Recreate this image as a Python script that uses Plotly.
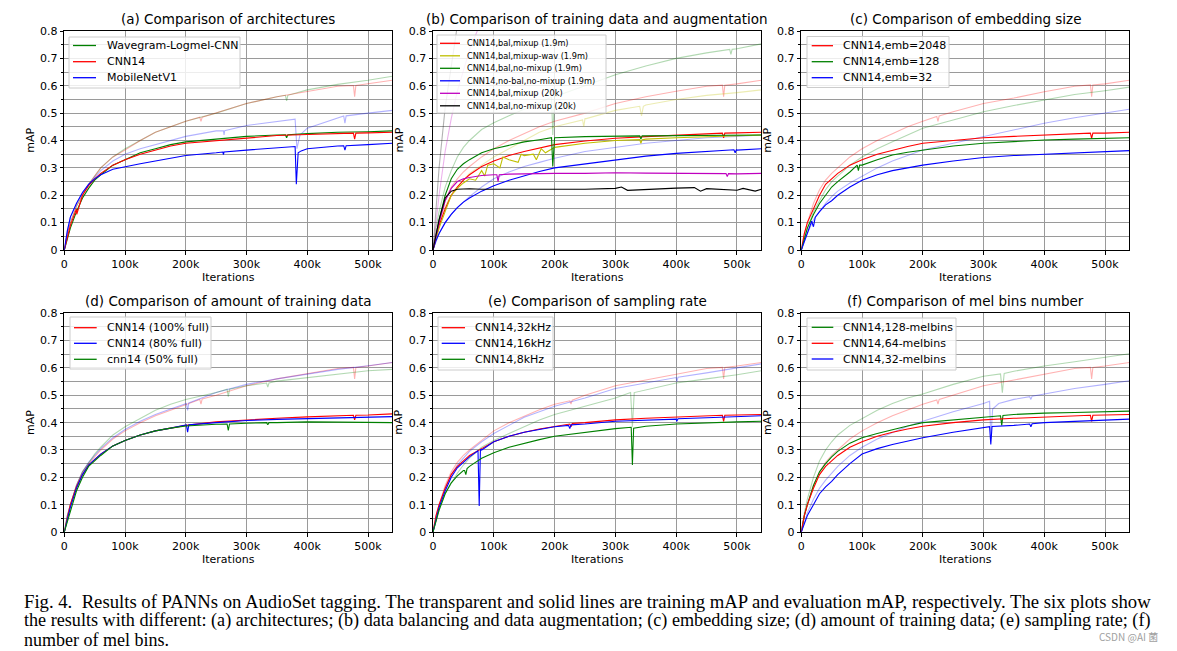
import plotly.graph_objects as go

# ---------------- data (iterations in thousands) ----------------
ITERS_K = [0, 5, 10, 20, 30, 40, 50, 60, 80, 100, 125, 150, 175, 200, 250, 300, 350, 400, 450, 500, 540]

X_TICKS_K = [0, 100, 200, 300, 400, 500]
X_TICK_LABELS = ["0", "100k", "200k", "300k", "400k", "500k"]
Y_TICKS = [0, 0.1, 0.2, 0.3, 0.4, 0.5, 0.6, 0.7, 0.8]
Y_TICK_LABELS = ["0", "0.1", "0.2", "0.3", "0.4", "0.5", "0.6", "0.7", "0.8"]

PANEL_TITLES = [
    "(a) Comparison of architectures",
    "(b) Comparison of training data and augmentation",
    "(c) Comparison of embedding size",
    "(d) Comparison of amount of training data",
    "(e) Comparison of sampling rate",
    "(f) Comparison of mel bins number",
]

# (a) architectures
A_LABELS = ["Wavegram-Logmel-CNN", "CNN14", "MobileNetV1"]
A_WAVEGRAM_EVAL = [0, 0.04, 0.08, 0.14, 0.19, 0.225, 0.255, 0.275, 0.31, 0.33, 0.355, 0.37, 0.385, 0.395, 0.405, 0.415, 0.42, 0.425, 0.43, 0.432, 0.435]
A_WAVEGRAM_EVAL_X = [(364, 0.421), (366, 0.41), (368, 0.421)]
A_CNN14_EVAL = [0, 0.05, 0.09, 0.15, 0.2, 0.235, 0.26, 0.28, 0.31, 0.33, 0.35, 0.365, 0.38, 0.39, 0.40, 0.41, 0.418, 0.422, 0.426, 0.428, 0.43]
A_CNN14_EVAL_X = [(20.5, 0.13), (476, 0.427), (478, 0.405), (480, 0.427)]
A_MOBILE_EVAL = [0, 0.07, 0.12, 0.17, 0.21, 0.24, 0.26, 0.275, 0.295, 0.305, 0.315, 0.325, 0.335, 0.345, 0.355, 0.365, 0.372, 0.37, 0.38, 0.385, 0.39]
A_MOBILE_EVAL_X = [(261, 0.358), (262, 0.348), (263, 0.358), (380, 0.378), (382, 0.24), (385, 0.355), (390, 0.362),
                   (460, 0.381), (462, 0.365), (464, 0.381)]
A_WAVEGRAM_TRAIN = [0, 0.06, 0.1, 0.16, 0.2, 0.24, 0.27, 0.3, 0.34, 0.37, 0.4, 0.43, 0.45, 0.47, 0.5, 0.535, 0.56, 0.585, 0.605, 0.62, 0.635]
A_WAVEGRAM_TRAIN_X = [(364, 0.565), (366, 0.545), (368, 0.565)]
A_CNN14_TRAIN = [0, 0.06, 0.1, 0.16, 0.2, 0.24, 0.27, 0.3, 0.34, 0.365, 0.4, 0.43, 0.45, 0.47, 0.5, 0.535, 0.56, 0.58, 0.598, 0.607, 0.62]
A_CNN14_TRAIN_X = [(223, 0.485), (225, 0.47), (227, 0.485), (476, 0.601), (478, 0.56), (480, 0.601)]
A_MOBILE_TRAIN = [0, 0.07, 0.12, 0.17, 0.21, 0.24, 0.265, 0.29, 0.325, 0.35, 0.37, 0.385, 0.4, 0.415, 0.435, 0.455, 0.468, 0.445, 0.482, 0.5, 0.51]
A_MOBILE_TRAIN_X = [(262, 0.435), (263, 0.42), (264, 0.436), (380, 0.478), (383, 0.37), (388, 0.42),
                    (460, 0.49), (462, 0.463), (464, 0.49)]

# (b) training data and augmentation
B_LABELS = ["CNN14,bal,mixup (1.9m)", "CNN14,bal,mixup-wav (1.9m)", "CNN14,bal,no-mixup (1.9m)",
            "CNN14,no-bal,no-mixup (1.9m)", "CNN14,bal,mixup (20k)", "CNN14,bal,no-mixup (20k)"]
B_RED_EVAL = [0, 0.05, 0.09, 0.15, 0.2, 0.23, 0.255, 0.275, 0.305, 0.325, 0.345, 0.36, 0.372, 0.385, 0.398, 0.408, 0.414, 0.42, 0.425, 0.428, 0.43]
B_RED_EVAL_X = [(476, 0.427), (478, 0.41), (480, 0.427)]
B_YELLOW_EVAL = [0, 0.04, 0.08, 0.14, 0.2, 0.225, 0.245, 0.26, 0.29, 0.315, 0.33, 0.345, 0.355, 0.375, 0.39, 0.4, 0.405, 0.41, 0.413, 0.416, 0.42]
B_YELLOW_EVAL_X = [(70, 0.255), (85, 0.27), (90, 0.31), (110, 0.3), (115, 0.34), (140, 0.32), (145, 0.35),
                   (165, 0.35), (170, 0.33), (178, 0.37), (185, 0.355), (340, 0.403), (342, 0.39), (344, 0.403)]
B_GREEN_EVAL = [0, 0.06, 0.11, 0.2, 0.26, 0.295, 0.315, 0.33, 0.355, 0.37, 0.383, 0.395, 0.403, 0.41, 0.414, 0.416, 0.417, 0.418, 0.418, 0.418, 0.42]
B_GREEN_EVAL_X = [(195, 0.41), (197, 0.305), (199, 0.41), (340, 0.417), (342, 0.405), (344, 0.417)]
B_BLUE_EVAL = [0, 0.035, 0.06, 0.1, 0.13, 0.155, 0.175, 0.19, 0.215, 0.235, 0.255, 0.272, 0.287, 0.3, 0.315, 0.33, 0.343, 0.353, 0.36, 0.365, 0.37]
B_BLUE_EVAL_X = [(495, 0.366), (497, 0.355), (499, 0.366)]
B_MAGENTA_EVAL = [0, 0.05, 0.1, 0.18, 0.225, 0.25, 0.26, 0.265, 0.272, 0.275, 0.277, 0.278, 0.28, 0.28, 0.28, 0.282, 0.281, 0.28, 0.28, 0.278, 0.28]
B_MAGENTA_EVAL_X = [(105, 0.275), (107, 0.25), (109, 0.275), (482, 0.279), (484, 0.268), (486, 0.279)]
B_BLACK_EVAL = [0, 0.06, 0.11, 0.19, 0.215, 0.222, 0.223, 0.224, 0.222, 0.222, 0.223, 0.222, 0.224, 0.223, 0.222, 0.225, 0.222, 0.226, 0.224, 0.218, 0.222]
B_BLACK_EVAL_X = [(310, 0.23), (320, 0.218), (430, 0.228), (440, 0.215), (510, 0.225), (530, 0.215)]
B_RED_TRAIN = [0, 0.06, 0.1, 0.18, 0.23, 0.26, 0.285, 0.305, 0.34, 0.37, 0.4, 0.425, 0.45, 0.47, 0.5, 0.535, 0.56, 0.58, 0.598, 0.607, 0.62]
B_RED_TRAIN_X = [(476, 0.602), (478, 0.56), (480, 0.602)]
B_YELLOW_TRAIN = [0, 0.05, 0.09, 0.16, 0.2, 0.23, 0.255, 0.28, 0.31, 0.34, 0.37, 0.4, 0.43, 0.45, 0.48, 0.51, 0.53, 0.55, 0.565, 0.575, 0.585]
B_YELLOW_TRAIN_X = [(246, 0.475), (248, 0.45), (252, 0.48), (340, 0.525), (343, 0.49), (346, 0.525)]
B_GREEN_TRAIN = [0, 0.08, 0.14, 0.23, 0.29, 0.34, 0.375, 0.4, 0.44, 0.465, 0.49, 0.515, 0.54, 0.56, 0.6, 0.64, 0.672, 0.7, 0.72, 0.735, 0.753]
B_GREEN_TRAIN_X = [(195, 0.558), (197, 0.42), (199, 0.56), (488, 0.733), (490, 0.715), (492, 0.733)]
B_BLUE_TRAIN = [0, 0.03, 0.06, 0.1, 0.13, 0.155, 0.175, 0.195, 0.23, 0.26, 0.285, 0.305, 0.32, 0.335, 0.36, 0.375, 0.39, 0.4, 0.41, 0.415, 0.42]
B_MAGENTA_TRAIN = [0, 0.1, 0.2, 0.36, 0.48, 0.58, 0.66, 0.73, 0.84, 0.9, 0.93, 0.95, 0.96, 0.97, 0.98, 0.98, 0.99, 0.99, 0.99, 0.99, 0.99]
B_BLACK_TRAIN = [0, 0.16, 0.3, 0.52, 0.68, 0.82, 0.9, 0.94, 0.97, 0.98, 0.99, 0.99, 0.99, 0.99, 0.99, 0.99, 0.99, 0.99, 0.99, 0.99, 0.99]

# (c) embedding size
C_LABELS = ["CNN14,emb=2048", "CNN14,emb=128", "CNN14,emb=32"]
C_RED_EVAL = [0, 0.06, 0.1, 0.15, 0.2, 0.24, 0.26, 0.28, 0.31, 0.33, 0.35, 0.365, 0.378, 0.39, 0.4, 0.41, 0.415, 0.42, 0.424, 0.427, 0.43]
C_RED_EVAL_X = [(476, 0.427), (478, 0.408), (480, 0.427)]
C_GREEN_EVAL = [0, 0.04, 0.08, 0.13, 0.17, 0.2, 0.23, 0.25, 0.285, 0.31, 0.33, 0.347, 0.357, 0.365, 0.38, 0.39, 0.396, 0.402, 0.405, 0.408, 0.41]
C_GREEN_EVAL_X = [(92, 0.31), (94, 0.29), (96, 0.31)]
C_BLUE_EVAL = [0, 0.03, 0.06, 0.085, 0.14, 0.165, 0.18, 0.2, 0.23, 0.255, 0.275, 0.29, 0.3, 0.31, 0.325, 0.338, 0.345, 0.35, 0.356, 0.36, 0.363]
C_BLUE_EVAL_X = [(17, 0.105), (23, 0.12)]
C_RED_TRAIN = [0, 0.06, 0.1, 0.17, 0.22, 0.255, 0.28, 0.3, 0.34, 0.37, 0.4, 0.425, 0.45, 0.47, 0.505, 0.535, 0.555, 0.578, 0.598, 0.607, 0.62]
C_RED_TRAIN_X = [(223, 0.488), (225, 0.47), (227, 0.49), (476, 0.603), (478, 0.56), (480, 0.603)]
C_GREEN_TRAIN = [0, 0.04, 0.08, 0.14, 0.18, 0.22, 0.25, 0.27, 0.31, 0.34, 0.37, 0.395, 0.42, 0.445, 0.475, 0.505, 0.528, 0.548, 0.568, 0.582, 0.595]
C_BLUE_TRAIN = [0, 0.03, 0.06, 0.11, 0.14, 0.17, 0.195, 0.215, 0.245, 0.27, 0.3, 0.325, 0.345, 0.365, 0.39, 0.415, 0.44, 0.463, 0.483, 0.5, 0.514]

# (d) amount of training data
D_LABELS = ["CNN14 (100% full)", "CNN14 (80% full)", "cnn14 (50% full)"]
D_RED_EVAL = [0, 0.05, 0.1, 0.165, 0.21, 0.245, 0.265, 0.285, 0.315, 0.335, 0.355, 0.37, 0.38, 0.39, 0.403, 0.41, 0.416, 0.421, 0.425, 0.428, 0.432]
D_RED_EVAL_X = [(476, 0.427), (478, 0.41), (480, 0.427)]
D_BLUE_EVAL = [0, 0.05, 0.09, 0.16, 0.21, 0.245, 0.265, 0.285, 0.315, 0.335, 0.355, 0.37, 0.38, 0.39, 0.4, 0.408, 0.412, 0.415, 0.418, 0.42, 0.422]
D_BLUE_EVAL_X = [(201, 0.392), (203, 0.365), (205, 0.392)]
D_GREEN_EVAL = [0, 0.04, 0.08, 0.15, 0.2, 0.24, 0.26, 0.28, 0.315, 0.335, 0.355, 0.37, 0.38, 0.388, 0.394, 0.398, 0.4, 0.403, 0.402, 0.401, 0.4]
D_GREEN_EVAL_X = [(268, 0.395), (270, 0.372), (272, 0.395), (333, 0.4), (335, 0.392), (337, 0.4)]
D_RED_TRAIN = [0, 0.06, 0.1, 0.17, 0.22, 0.25, 0.275, 0.3, 0.34, 0.37, 0.4, 0.425, 0.445, 0.465, 0.5, 0.535, 0.56, 0.58, 0.598, 0.607, 0.62]
D_RED_TRAIN_X = [(223, 0.485), (225, 0.468), (227, 0.487), (476, 0.602), (478, 0.56), (480, 0.602)]
D_BLUE_TRAIN = [0, 0.06, 0.1, 0.17, 0.22, 0.255, 0.28, 0.305, 0.345, 0.375, 0.405, 0.43, 0.45, 0.47, 0.51, 0.54, 0.56, 0.578, 0.595, 0.608, 0.62]
D_BLUE_TRAIN_X = [(201, 0.47), (203, 0.445), (205, 0.472)]
D_GREEN_TRAIN = [0, 0.06, 0.1, 0.17, 0.22, 0.255, 0.285, 0.31, 0.355, 0.385, 0.415, 0.445, 0.467, 0.485, 0.51, 0.535, 0.552, 0.565, 0.578, 0.59, 0.595]
D_GREEN_TRAIN_X = [(268, 0.522), (270, 0.495), (272, 0.522), (333, 0.545), (335, 0.53), (337, 0.545)]

# (e) sampling rate
E_LABELS = ["CNN14,32kHz", "CNN14,16kHz", "CNN14,8kHz"]
E_RED_EVAL = [0, 0.06, 0.1, 0.16, 0.21, 0.24, 0.26, 0.28, 0.305, 0.33, 0.35, 0.365, 0.377, 0.387, 0.4, 0.41, 0.416, 0.421, 0.425, 0.428, 0.43]
E_RED_EVAL_X = [(225, 0.395), (227, 0.385), (229, 0.397), (476, 0.427), (478, 0.405), (480, 0.427)]
E_BLUE_EVAL = [0, 0.05, 0.09, 0.15, 0.2, 0.235, 0.255, 0.275, 0.3, 0.33, 0.35, 0.365, 0.375, 0.385, 0.395, 0.405, 0.41, 0.413, 0.418, 0.423, 0.425]
E_BLUE_EVAL_X = [(74, 0.297), (76, 0.095), (78, 0.303), (223, 0.39), (225, 0.378), (227, 0.392),
                 (398, 0.414), (401, 0.405), (403, 0.414)]
E_GREEN_EVAL = [0, 0.04, 0.08, 0.14, 0.18, 0.205, 0.225, 0.24, 0.27, 0.29, 0.31, 0.325, 0.338, 0.35, 0.365, 0.378, 0.387, 0.395, 0.4, 0.403, 0.405]
E_GREEN_EVAL_X = [(52, 0.225), (54, 0.21), (56, 0.232), (326, 0.383), (328, 0.245), (330, 0.38)]
E_RED_TRAIN = [0, 0.06, 0.1, 0.17, 0.22, 0.255, 0.28, 0.3, 0.335, 0.37, 0.4, 0.425, 0.447, 0.467, 0.5, 0.535, 0.556, 0.578, 0.598, 0.607, 0.62]
E_RED_TRAIN_X = [(225, 0.48), (227, 0.468), (229, 0.482), (476, 0.602), (478, 0.56), (480, 0.602)]
E_BLUE_TRAIN = [0, 0.05, 0.09, 0.16, 0.21, 0.245, 0.27, 0.295, 0.33, 0.36, 0.39, 0.42, 0.44, 0.46, 0.49, 0.525, 0.545, 0.565, 0.582, 0.6, 0.615]
E_BLUE_TRAIN_X = [(398, 0.565), (401, 0.55), (403, 0.566)]
E_GREEN_TRAIN = [0, 0.04, 0.08, 0.14, 0.18, 0.215, 0.245, 0.27, 0.31, 0.335, 0.36, 0.385, 0.41, 0.43, 0.46, 0.49, 0.52, 0.545, 0.56, 0.575, 0.59]
E_GREEN_TRAIN_X = [(325, 0.51), (328, 0.385), (331, 0.51)]

# (f) mel bins
F_LABELS = ["CNN14,128-melbins", "CNN14,64-melbins", "CNN14,32-melbins"]
F_GREEN_EVAL = [0, 0.06, 0.1, 0.17, 0.22, 0.25, 0.275, 0.295, 0.325, 0.345, 0.36, 0.375, 0.388, 0.4, 0.41, 0.42, 0.43, 0.435, 0.437, 0.44, 0.442]
F_GREEN_EVAL_X = [(328, 0.425), (330, 0.39), (332, 0.426)]
F_RED_EVAL = [0, 0.06, 0.1, 0.16, 0.21, 0.24, 0.26, 0.28, 0.31, 0.33, 0.35, 0.365, 0.377, 0.387, 0.4, 0.41, 0.416, 0.421, 0.425, 0.428, 0.43]
F_RED_EVAL_X = [(476, 0.427), (478, 0.405), (480, 0.427)]
F_BLUE_EVAL = [0, 0.03, 0.06, 0.1, 0.14, 0.165, 0.185, 0.21, 0.25, 0.285, 0.305, 0.32, 0.333, 0.345, 0.365, 0.382, 0.39, 0.4, 0.405, 0.41, 0.413]
F_BLUE_EVAL_X = [(310, 0.385), (312, 0.32), (314, 0.386), (376, 0.395), (378, 0.385), (380, 0.396)]
F_GREEN_TRAIN = [0, 0.07, 0.12, 0.2, 0.26, 0.3, 0.33, 0.355, 0.39, 0.415, 0.445, 0.47, 0.49, 0.505, 0.54, 0.57, 0.588, 0.607, 0.623, 0.64, 0.652]
F_GREEN_TRAIN_X = [(328, 0.578), (331, 0.51), (334, 0.58)]
F_RED_TRAIN = [0, 0.06, 0.1, 0.17, 0.22, 0.255, 0.28, 0.3, 0.34, 0.37, 0.4, 0.425, 0.447, 0.467, 0.5, 0.535, 0.556, 0.578, 0.598, 0.607, 0.62]
F_RED_TRAIN_X = [(223, 0.483), (225, 0.468), (227, 0.485), (476, 0.602), (478, 0.56), (480, 0.602)]
F_BLUE_TRAIN = [0, 0.04, 0.07, 0.12, 0.16, 0.19, 0.215, 0.24, 0.28, 0.31, 0.34, 0.365, 0.387, 0.405, 0.44, 0.47, 0.485, 0.505, 0.525, 0.54, 0.553]
F_BLUE_TRAIN_X = [(310, 0.478), (312, 0.34), (315, 0.45), (325, 0.47), (376, 0.495), (378, 0.485), (380, 0.497)]

CAPTION_LINES = [
    "Fig. 4.  Results of PANNs on AudioSet tagging. The transparent and solid lines are training mAP and evaluation mAP, respectively. The six plots show",
    "the results with different: (a) architectures; (b) data balancing and data augmentation; (c) embedding size; (d) amount of training data; (e) sampling rate; (f)",
    "number of mel bins.",
]
WATERMARK = "CSDN @AI 菌"

# ---------------- styling ----------------
RED, GREEN, BLUE = "#ff0000", "#008000", "#0000ff"
YELLOW, MAGENTA, BLACK = "#bfbf00", "#bf00bf", "#000000"
TRAIN_ALPHA = 0.3
FONT = "DejaVu Sans"
W, H = 1177, 651
GRID = "#9a9a9a"
CAPTION_SIZES = [18.7, 18.15, 18.0]   # slight per-line sizing to mimic the justified caption

# plot-area pixel boxes (left, right) / (top, bottom)
COLS = [(64.3, 392.3), (433.0, 761.3), (801.3, 1129.3)]
ROWS = [(31.0, 250.0), (313.3, 532.0)]

# hand-drawn legend boxes (pixels): box, line sample x-range, text x, row centres, font size
LEGEND_STYLE = [
    dict(box=(69, 37, 240, 88), lx=(73, 96), tx=105, rows=(45.5, 61.7, 77.7), fs=11),
    dict(box=(437, 35, 606, 113), lx=(440, 460), tx=465, rows=(43.3, 55.8, 68.3, 80.8, 93.3, 105.8), fs=8.2),
    dict(box=(807, 36.5, 949, 87.5), lx=(811.7, 833), tx=841, rows=(45.7, 61.7, 77.7), fs=11),
    dict(box=(70, 317, 211, 369), lx=(74, 96.7), tx=105, rows=(327.7, 343.3, 359.3), fs=11),
    dict(box=(438, 317, 553, 370), lx=(441.7, 465), tx=473, rows=(327.7, 343.3, 359.3), fs=11),
    dict(box=(807, 318, 956, 370), lx=(811.7, 833.3), tx=841, rows=(327.3, 343.3, 359.0), fs=11),
]


def rgba(hex_color, a):
    h = hex_color.lstrip("#")
    r, g, b = int(h[0:2], 16), int(h[2:4], 16), int(h[4:6], 16)
    return f"rgba({r},{g},{b},{a})"


def merge(vals, extra=()):
    pts = sorted(list(zip(ITERS_K, vals)) + list(extra))
    return [p[0] * 1000 for p in pts], [p[1] for p in pts]


def px(x):
    return x / W


def py(y):
    return 1 - y / H


PANELS = [
    dict(train=[(A_WAVEGRAM_TRAIN, A_WAVEGRAM_TRAIN_X, GREEN), (A_CNN14_TRAIN, A_CNN14_TRAIN_X, RED), (A_MOBILE_TRAIN, A_MOBILE_TRAIN_X, BLUE)],
         eval=[(A_WAVEGRAM_EVAL, A_WAVEGRAM_EVAL_X, GREEN, A_LABELS[0]), (A_CNN14_EVAL, A_CNN14_EVAL_X, RED, A_LABELS[1]),
               (A_MOBILE_EVAL, A_MOBILE_EVAL_X, BLUE, A_LABELS[2])]),
    dict(train=[(B_RED_TRAIN, B_RED_TRAIN_X, RED), (B_YELLOW_TRAIN, B_YELLOW_TRAIN_X, YELLOW), (B_GREEN_TRAIN, B_GREEN_TRAIN_X, GREEN),
                (B_BLUE_TRAIN, (), BLUE), (B_MAGENTA_TRAIN, (), MAGENTA), (B_BLACK_TRAIN, (), BLACK)],
         eval=[(B_RED_EVAL, B_RED_EVAL_X, RED, B_LABELS[0]), (B_YELLOW_EVAL, B_YELLOW_EVAL_X, YELLOW, B_LABELS[1]),
               (B_GREEN_EVAL, B_GREEN_EVAL_X, GREEN, B_LABELS[2]), (B_BLUE_EVAL, B_BLUE_EVAL_X, BLUE, B_LABELS[3]),
               (B_MAGENTA_EVAL, B_MAGENTA_EVAL_X, MAGENTA, B_LABELS[4]), (B_BLACK_EVAL, B_BLACK_EVAL_X, BLACK, B_LABELS[5])]),
    dict(train=[(C_RED_TRAIN, C_RED_TRAIN_X, RED), (C_GREEN_TRAIN, (), GREEN), (C_BLUE_TRAIN, (), BLUE)],
         eval=[(C_RED_EVAL, C_RED_EVAL_X, RED, C_LABELS[0]), (C_GREEN_EVAL, C_GREEN_EVAL_X, GREEN, C_LABELS[1]),
               (C_BLUE_EVAL, C_BLUE_EVAL_X, BLUE, C_LABELS[2])]),
    dict(train=[(D_RED_TRAIN, D_RED_TRAIN_X, RED), (D_BLUE_TRAIN, D_BLUE_TRAIN_X, BLUE), (D_GREEN_TRAIN, D_GREEN_TRAIN_X, GREEN)],
         eval=[(D_RED_EVAL, D_RED_EVAL_X, RED, D_LABELS[0]), (D_BLUE_EVAL, D_BLUE_EVAL_X, BLUE, D_LABELS[1]),
               (D_GREEN_EVAL, D_GREEN_EVAL_X, GREEN, D_LABELS[2])]),
    dict(train=[(E_RED_TRAIN, E_RED_TRAIN_X, RED), (E_BLUE_TRAIN, E_BLUE_TRAIN_X, BLUE), (E_GREEN_TRAIN, E_GREEN_TRAIN_X, GREEN)],
         eval=[(E_RED_EVAL, E_RED_EVAL_X, RED, E_LABELS[0]), (E_BLUE_EVAL, E_BLUE_EVAL_X, BLUE, E_LABELS[1]),
               (E_GREEN_EVAL, E_GREEN_EVAL_X, GREEN, E_LABELS[2])]),
    dict(train=[(F_GREEN_TRAIN, F_GREEN_TRAIN_X, GREEN), (F_RED_TRAIN, F_RED_TRAIN_X, RED), (F_BLUE_TRAIN, F_BLUE_TRAIN_X, BLUE)],
         eval=[(F_GREEN_EVAL, F_GREEN_EVAL_X, GREEN, F_LABELS[0]), (F_RED_EVAL, F_RED_EVAL_X, RED, F_LABELS[1]),
               (F_BLUE_EVAL, F_BLUE_EVAL_X, BLUE, F_LABELS[2])]),
]

fig = go.Figure()
layout = dict(width=W, height=H, margin=dict(l=0, r=0, t=0, b=0, pad=0, autoexpand=False),
              paper_bgcolor="white", plot_bgcolor="white", showlegend=False,
              font=dict(family=FONT, size=11, color="black"), hovermode=False)
annotations, shapes = [], []

for i, p in enumerate(PANELS):
    r, c = divmod(i, 3)
    (xl, xr), (yt, yb) = COLS[c], ROWS[r]
    n = "" if i == 0 else str(i + 1)
    xa, ya = "x" + n, "y" + n
    for vals, extra, color in p["train"]:
        xs, ys = merge(vals, extra)
        fig.add_trace(go.Scatter(x=xs, y=ys, mode="lines", xaxis=xa, yaxis=ya, showlegend=False,
                                 line=dict(color=rgba(color, TRAIN_ALPHA), width=1.1)))
    for vals, extra, color, label in p["eval"]:
        xs, ys = merge(vals, extra)
        fig.add_trace(go.Scatter(x=xs, y=ys, mode="lines", xaxis=xa, yaxis=ya, name=label, showlegend=False,
                                 line=dict(color=color, width=1.1)))
    layout["xaxis" + n] = dict(domain=[px(xl), px(xr)], anchor=ya, range=[0, 540000], automargin=False,
                               tickvals=[k * 1000 for k in X_TICKS_K], ticktext=X_TICK_LABELS,
                               showgrid=True, gridcolor=GRID, gridwidth=0.8, zeroline=False,
                               showline=True, linecolor="black", linewidth=1, mirror=True,
                               ticks="outside", ticklen=3.5, tickcolor="black",
                               tickfont=dict(size=11, family=FONT))
    layout["yaxis" + n] = dict(domain=[py(yb), py(yt)], anchor=xa, range=[0, 0.8], automargin=False,
                               tickvals=Y_TICKS, ticktext=Y_TICK_LABELS,
                               showgrid=True, gridcolor=GRID, gridwidth=0.8, zeroline=False,
                               showline=True, linecolor="black", linewidth=1, mirror=True,
                               ticks="outside", ticklen=3.5, tickcolor="black",
                               minor=dict(dtick=0.05, tick0=0, showgrid=True, gridcolor=GRID, gridwidth=0.8,
                                          ticks="outside", ticklen=2, tickcolor="black"),
                               tickfont=dict(size=11, family=FONT))

    # legend (drawn by hand so box/row spacing match the reference)
    st = LEGEND_STYLE[i]
    bx0, by0, bx1, by1 = st["box"]
    shapes.append(dict(type="rect", xref="paper", yref="paper", x0=px(bx0), x1=px(bx1), y0=py(by1), y1=py(by0),
                       fillcolor="rgba(255,255,255,0.82)", line=dict(color="#cccccc", width=1), layer="above"))
    for (vals, extra, color, label), ry in zip(p["eval"], st["rows"]):
        shapes.append(dict(type="line", xref="paper", yref="paper", x0=px(st["lx"][0]), x1=px(st["lx"][1]),
                           y0=py(ry), y1=py(ry), line=dict(color=color, width=1.3), layer="above"))
        annotations.append(dict(text=label, x=px(st["tx"]), y=py(ry), xref="paper", yref="paper", showarrow=False,
                                xanchor="left", yanchor="middle", font=dict(size=st["fs"], family=FONT)))

    cx = (xl + xr) / 2
    annotations.append(dict(text=PANEL_TITLES[i], x=px(cx), y=py(yt - 12), xref="paper", yref="paper",
                            showarrow=False, font=dict(size=13.5, family=FONT), xanchor="center", yanchor="middle"))
    annotations.append(dict(text="Iterations", x=px(cx), y=py(yb + 27), xref="paper", yref="paper",
                            showarrow=False, font=dict(size=11, family=FONT), xanchor="center", yanchor="middle"))
    annotations.append(dict(text="mAP", x=px(xl - 34), y=py((yt + yb) / 2), xref="paper", yref="paper",
                            showarrow=False, textangle=-90, font=dict(size=11, family=FONT),
                            xanchor="center", yanchor="middle"))

for j, line in enumerate(CAPTION_LINES):
    annotations.append(dict(text=line, x=px(22), y=py(601 + 19.5 * j), xref="paper", yref="paper",
                            showarrow=False, xanchor="left", yanchor="middle",
                            font=dict(size=CAPTION_SIZES[j], family="Liberation Serif", color="black")))
annotations.append(dict(text=WATERMARK, x=px(1160), y=py(636), xref="paper", yref="paper",
                        showarrow=False, xanchor="right", yanchor="middle",
                        font=dict(size=10, family="Noto Sans CJK SC", color="#a0a0a0")))

layout["annotations"] = annotations
layout["shapes"] = shapes
fig.update_layout(**layout)
fig.write_html("out.html", config={"displayModeBar": False},
               post_script="document.body.style.margin='0px';")
